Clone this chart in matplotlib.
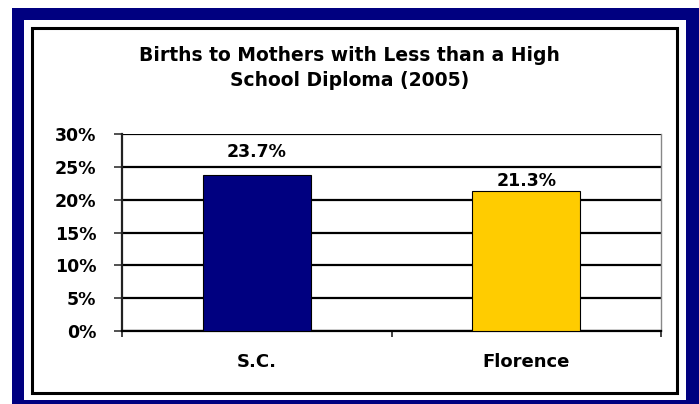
import matplotlib.pyplot as plt
from matplotlib.patches import Rectangle
from matplotlib.ticker import FixedLocator

categories = ['S.C.', 'Florence']
values = [23.7, 21.3]
value_labels = ['23.7%', '21.3%']
bar_colors = ['#000080', '#FFCC00']
yticks = [0, 5, 10, 15, 20, 25, 30]
ytick_labels = ['0%', '5%', '10%', '15%', '20%', '25%', '30%']
title = 'Births to Mothers with Less than a High\nSchool Diploma (2005)'

plt.rcParams['font.family'] = ['DejaVu Sans']

W, H = 699, 404
fig = plt.figure(figsize=(W / 100, H / 100), dpi=100)

def px_rect(x0, y0, x1, y1, **kw):
    # pixel coords (top-left origin) -> figure fraction
    return Rectangle((x0 / W, 1 - y1 / H), (x1 - x0) / W, (y1 - y0) / H,
                     transform=fig.transFigure, **kw)

# navy frame, white inside, thin black border
fig.patches.append(px_rect(12, 8, 700, 410, facecolor='#000080', edgecolor='none', zorder=0))
fig.patches.append(px_rect(24, 20, 686, 400, facecolor='white', edgecolor='none', zorder=1))
fig.patches.append(px_rect(31.5, 27.5, 676.5, 392.5, facecolor='none', edgecolor='black',
                           linewidth=2.2, zorder=2))

ax = fig.add_axes([122 / W, 1 - 331 / H, 539 / W, 197 / H])
ax.set_zorder(5)
ax.set_facecolor('none')

x = range(len(categories))
ax.bar(x, values, width=0.40, color=bar_colors, edgecolor='black', linewidth=0.8, zorder=3)

# label offsets (points) as placed in the original
label_pad = [10, 1]
for i, v in enumerate(values):
    ax.annotate(value_labels[i], (i, v), xytext=(0, label_pad[i]), textcoords='offset points',
                ha='center', va='bottom', fontsize=12.5, fontweight='bold', zorder=4)

ax.set_xlim(-0.5, 1.5)
ax.set_ylim(0, 30)
ax.set_yticks(yticks)
ax.set_yticklabels(ytick_labels, fontsize=12.5, fontweight='bold')
ax.yaxis.grid(True, color='black', linewidth=1.6, zorder=0)
ax.set_axisbelow(True)

ax.set_xticks(list(x))
ax.set_xticklabels(categories, fontsize=13, fontweight='bold')
ax.xaxis.set_minor_locator(FixedLocator([-0.5, 0.5, 1.5]))
ax.tick_params(axis='x', which='major', length=0, pad=15.5)
ax.tick_params(axis='x', which='minor', length=4, width=1.2, direction='out', color='#222222')
ax.tick_params(axis='y', length=5.5, width=1.2, direction='out', pad=13, color='#333333')

ax.spines['top'].set_visible(False)
ax.spines['bottom'].set_color('black')
ax.spines['bottom'].set_linewidth(1.6)
ax.spines['left'].set_color('#222222')
ax.spines['left'].set_linewidth(1.6)
ax.spines['right'].set_color('#888888')
ax.spines['right'].set_linewidth(1.0)

fig.text(0.5, 1 - 68 / H, title, ha='center', va='center', fontsize=13.5,
         fontweight='bold', linespacing=1.4)

fig.savefig('out.png', dpi=100)
